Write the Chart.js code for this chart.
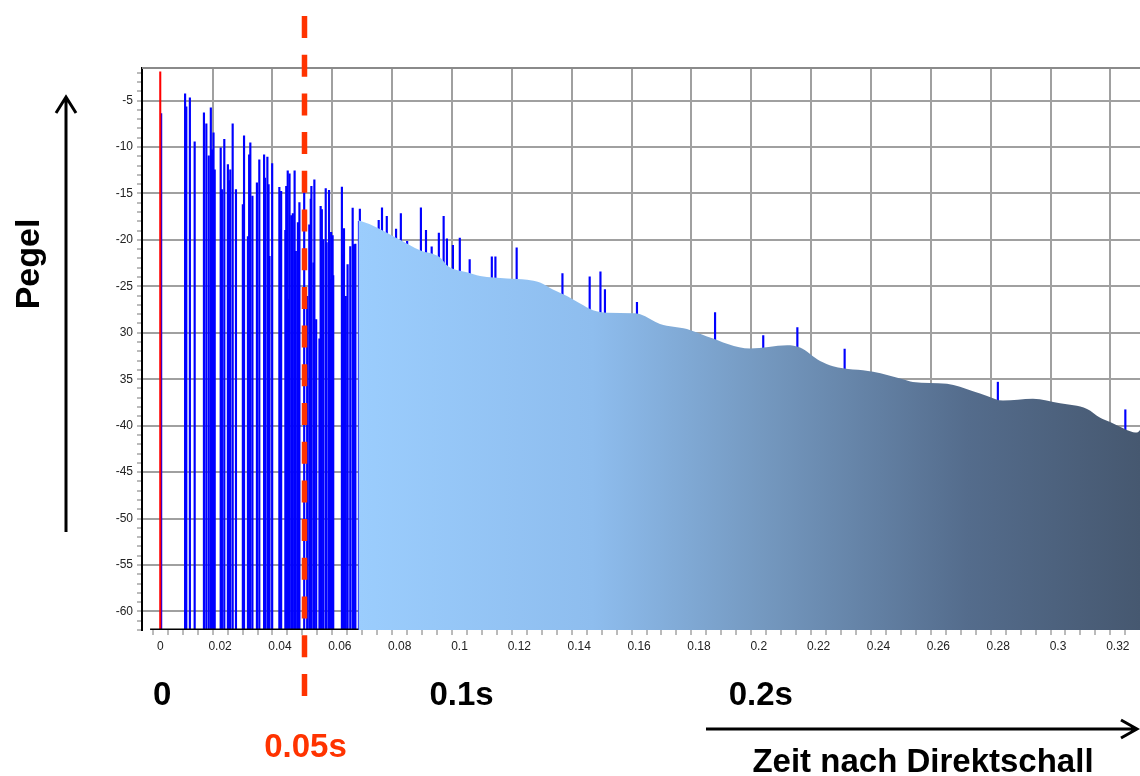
<!DOCTYPE html>
<html>
<head>
<meta charset="utf-8">
<script src="https://cdn.jsdelivr.net/npm/chart.js@4.4.1/dist/chart.umd.min.js"></script>
<style>
  html, body { margin: 0; padding: 0; background: #fff; overflow: hidden; }
  #wrap { width: 1140px; height: 776px; }
</style>
</head>
<body>
<div id="wrap"><canvas id="chartEcho" width="1140" height="776"></canvas></div>
<script>
// Direktschall (t in s, Pegel in dB)
var directTime = [0];
var directLevel = [-1.9];

// einzelne Reflexionen
var reflTime = [0.0003, 0.0083, 0.0087, 0.0099, 0.0115, 0.0146, 0.0154, 0.0162, 0.0169, 0.0173,
    0.0178, 0.0182, 0.0202, 0.0206, 0.0214, 0.0226, 0.0230, 0.0234, 0.0242, 0.0253,
    0.0276, 0.0280, 0.0293, 0.0297, 0.0301, 0.0308, 0.0323, 0.0331, 0.0347, 0.0350,
    0.0358, 0.0362, 0.0365, 0.0374, 0.0398, 0.0401, 0.0404, 0.0418, 0.0421, 0.0426,
    0.0428, 0.0432, 0.0438, 0.0443, 0.0449, 0.0453, 0.0460, 0.0465, 0.0481, 0.0491,
    0.0498, 0.0503, 0.0505, 0.0512, 0.0515, 0.0521, 0.0532, 0.0536, 0.0540, 0.0545,
    0.0553, 0.0556, 0.0564, 0.0567, 0.0571, 0.0576, 0.0578, 0.0607, 0.0610, 0.0614,
    0.0620, 0.0626, 0.0635, 0.0643, 0.0647, 0.0652, 0.0664, 0.0667,
    0.0730, 0.0741, 0.0757, 0.0788, 0.0804, 0.0825, 0.0871, 0.0888, 0.0907, 0.0931,
    0.0947, 0.0958, 0.0978, 0.1001, 0.1034, 0.1108, 0.1120, 0.1191, 0.1344, 0.1435,
    0.1471, 0.1486, 0.1593, 0.1854, 0.2015, 0.2129, 0.2287, 0.2799, 0.3225];
var reflLevel = [-6.4, -4.28, -5.68, -4.71, -9.44, -6.32, -7.5, -10.96, -5.78, -10.3,
    -8.47, -12.45, -10.09, -14.6, -9.17, -11.91, -13.63, -12.45, -7.5, -14.6,
    -16.2, -8.8, -19.66, -10.84, -9.55, -15.3, -13.85, -11.38, -10.84, -13.34,
    -11.09, -14.06, -21.77, -11.8, -14.35, -18.9, -14.78, -18.98, -14.25, -12.56,
    -26.43, -12.88, -17.4, -17.18, -12.56, -21.24, -18.15, -16.0, -14.82, -26.08,
    -18.37, -15.6, -14.25, -22.48, -13.53, -28.58, -30.66, -16.38, -16.75, -19.98,
    -14.49, -20.3, -14.66, -24.28, -19.19, -19.55, -23.85, -14.33, -21.6, -18.8,
    -26.08, -22.67, -20.73, -16.57, -20.52, -20.46, -18.01, -16.68,
    -17.9, -16.54, -17.47, -18.83, -17.18, -20.16, -16.54, -18.98, -20.76, -19.26,
    -17.47, -19.9, -20.6, -19.8, -22.13, -21.84, -21.84, -20.87, -23.63, -23.99,
    -23.45, -25.35, -26.72, -27.83, -30.3, -29.44, -31.77, -35.32, -38.29];

// diffuser Nachhall (Hüllkurve)
var tailTime = [0.0662, 0.0711, 0.0801, 0.0868, 0.0935, 0.0962, 0.1025, 0.1069, 0.1159, 0.1226,
    0.1269, 0.1312, 0.1359, 0.1403, 0.1446, 0.1493, 0.1580, 0.1604, 0.1670, 0.1760,
    0.1827, 0.1971, 0.2095, 0.2138, 0.2205, 0.2248, 0.2382, 0.2482, 0.2515, 0.2629,
    0.2716, 0.2763, 0.2816, 0.2916, 0.3007, 0.3097, 0.3141, 0.3174, 0.3251, 0.3264, 0.3281];
var tailLevel = [-17.9, -18.47, -19.98, -21.13, -21.9, -22.85, -23.5, -23.9, -24.15, -24.3,
    -24.6, -25.35, -26.05, -26.85, -27.57, -27.85, -27.9, -28.0, -29.05, -29.6,
    -30.4, -31.7, -31.35, -31.6, -33.05, -33.6, -34.2, -35.0, -35.3, -35.5,
    -36.3, -36.8, -37.3, -37.1, -37.6, -38.2, -39.15, -39.6, -40.7, -40.75, -40.2];

// schwarze Grundlinie unter den Reflexionen
var baseTime = [-0.0034, 0.0662];
var floorLevel = -62;
var topLevel = -1.5;
var cutoffTime = 0.0482;

var xTickValues = [0, 0.02, 0.04, 0.06, 0.08, 0.1, 0.12, 0.14, 0.16, 0.18, 0.2, 0.22, 0.24, 0.26, 0.28, 0.3, 0.32];
var xTickLabels = ['0', '0.02', '0.04', '0.06', '0.08', '0.1', '0.12', '0.14', '0.16', '0.18', '0.2', '0.22', '0.24', '0.26', '0.28', '0.3', '0.32'];
var yTickValues = [-5, -10, -15, -20, -25, -30, -35, -40, -45, -50, -55, -60];
var yTickLabels = ['-5', '-10', '-15', '-20', '-25', '30', '35', '-40', '-45', '-50', '-55', '-60'];

var markerValues = [0, 0.1, 0.2];
var markerLabels = ['0', '0.1s', '0.2s'];

var xMinorTicks = [];
for (var i = -1; i <= 65; i++) xMinorTicks.push(Math.round(i * 5) / 1000);
var yMinorTicks = [];
for (var j = -62; j <= -2; j++) yMinorTicks.push(j);

function findIndex(list, v) {
    for (var k = 0; k < list.length; k++) {
        if (Math.abs(list[k] - v) < 1e-6) return k;
    }
    return -1;
}

var overlayPlugin = {
    id: 'overlay',
    afterDraw: function (chart) {
        var c = chart.ctx;
        var a = chart.chartArea;
        var xs = chart.scales.x;
        c.save();

        // obere Rahmenlinie
        c.strokeStyle = '#8a8a8a';
        c.lineWidth = 2;
        c.beginPath();
        c.moveTo(a.left, a.top);
        c.lineTo(a.right, a.top);
        c.stroke();

        // 50 ms Grenze
        var xc = xs.getPixelForValue(cutoffTime);
        c.strokeStyle = '#ff3300';
        c.lineWidth = 5.5;
        c.setLineDash([22, 16.7]);
        c.beginPath();
        c.moveTo(xc, 16);
        c.lineTo(xc, 696);
        c.stroke();
        c.setLineDash([]);

        c.font = 'bold 33px "Liberation Sans", Arial, sans-serif';
        c.textAlign = 'center';
        c.textBaseline = 'alphabetic';
        c.fillStyle = '#000';
        for (var m = 0; m < markerValues.length; m++) {
            c.fillText(markerLabels[m], xs.getPixelForValue(markerValues[m]) + 2, 705);
        }
        c.fillStyle = '#ff3300';
        c.fillText('0.05s', xc + 1, 757);
        c.fillStyle = '#000';
        c.fillText('Zeit nach Direktschall', 923, 772);

        c.save();
        c.translate(39, 264);
        c.rotate(-Math.PI / 2);
        c.font = 'bold 34px "Liberation Sans", Arial, sans-serif';
        c.fillText('Pegel', 0, 0);
        c.restore();

        // Pfeile
        c.strokeStyle = '#000';
        c.lineWidth = 3;
        c.beginPath();
        c.moveTo(66, 532);
        c.lineTo(66, 97);
        c.moveTo(56, 113);
        c.lineTo(66, 97);
        c.lineTo(76, 113);
        c.moveTo(706, 729);
        c.lineTo(1137, 729);
        c.moveTo(1121, 720);
        c.lineTo(1137, 729);
        c.lineTo(1121, 738);
        c.stroke();

        c.restore();
    }
};

var ctx = document.getElementById('chartEcho');
var echoChart = new Chart(ctx, {
    type: 'bar',
    data: {
        datasets: [{
            type: 'line',
            label: 'Grundlinie',
            data: baseTime.map(function (t) { return { x: t, y: floorLevel }; }),
            borderColor: '#000',
            borderWidth: 3,
            pointRadius: 0,
            order: -1
        }, {
            type: 'line',
            label: 'Nachhall',
            data: tailTime.map(function (t, k) { return { x: t, y: tailLevel[k] }; }),
            fill: 'start',
            borderColor: 'rgba(0,0,0,0)',
            borderWidth: 1,
            pointRadius: 0,
            cubicInterpolationMode: 'monotone',
            order: 0,
            backgroundColor: function (context) {
                var chart = context.chart;
                var area = chart.chartArea;
                if (!area) return '#99ccff';
                var x0 = chart.scales.x.getPixelForValue(tailTime[0]);
                var g = chart.ctx.createLinearGradient(x0, 0, area.right, 0);
                g.addColorStop(0, '#9bcdfd');
                g.addColorStop(0.3, '#8ebdee');
                g.addColorStop(0.52, '#7498bf');
                g.addColorStop(0.78, '#546c8c');
                g.addColorStop(1, '#465870');
                return g;
            }
        }, {
            label: 'Direktschall',
            data: directTime.map(function (t, k) { return { x: t, y: [floorLevel, directLevel[k]] }; }),
            backgroundColor: '#ff0000',
            barThickness: 1.4,
            grouped: false,
            order: 1
        }, {
            label: 'Reflexionen',
            data: reflTime.map(function (t, k) { return { x: t, y: [floorLevel, reflLevel[k]] }; }),
            backgroundColor: '#0000ff',
            barThickness: 1.5,
            grouped: false,
            order: 2
        }]
    },
    options: {
        responsive: false,
        animation: false,
        layout: { padding: { top: 68, left: 0, right: 0, bottom: 0 } },
        plugins: {
            legend: { display: false },
            tooltip: { enabled: false }
        },
        scales: {
            x: {
                type: 'linear',
                min: -0.0061,
                max: 0.3274,
                offset: false,
                afterBuildTicks: function (scale) {
                    scale.ticks = xMinorTicks.map(function (v) { return { value: v }; });
                },
                afterFit: function (scale) { scale.height = 146; },
                border: { display: false },
                grid: {
                    color: function (c) {
                        if (!c.tick) return 'rgba(0,0,0,0)';
                        var v = c.tick.value;
                        return (v !== 0 && findIndex(xTickValues, v) >= 0) ? '#a0a0a0' : 'rgba(0,0,0,0)';
                    },
                    lineWidth: 2,
                    tickColor: '#777',
                    tickWidth: 1,
                    tickLength: 5
                },
                ticks: {
                    autoSkip: false,
                    maxRotation: 0,
                    padding: 4,
                    color: '#222',
                    font: { family: '"Liberation Sans", Arial, sans-serif', size: 12 },
                    callback: function (v) {
                        var k = findIndex(xTickValues, v);
                        return k >= 0 ? xTickLabels[k] : '';
                    }
                }
            },
            y: {
                min: floorLevel,
                max: topLevel,
                afterBuildTicks: function (scale) {
                    scale.ticks = yMinorTicks.map(function (v) { return { value: v }; });
                },
                afterFit: function (scale) { scale.width = 142; },
                border: { display: true, color: '#000', width: 2 },
                grid: {
                    color: function (c) {
                        if (!c.tick) return 'rgba(0,0,0,0)';
                        return findIndex(yTickValues, c.tick.value) >= 0 ? '#a0a0a0' : 'rgba(0,0,0,0)';
                    },
                    lineWidth: 2,
                    tickColor: '#777',
                    tickWidth: 1,
                    tickLength: 5
                },
                ticks: {
                    autoSkip: false,
                    padding: 4,
                    color: '#222',
                    font: { family: '"Liberation Sans", Arial, sans-serif', size: 12 },
                    callback: function (v) {
                        var k = findIndex(yTickValues, v);
                        return k >= 0 ? yTickLabels[k] : '';
                    }
                }
            }
        }
    },
    plugins: [overlayPlugin]
});
</script>
</body>
</html>
